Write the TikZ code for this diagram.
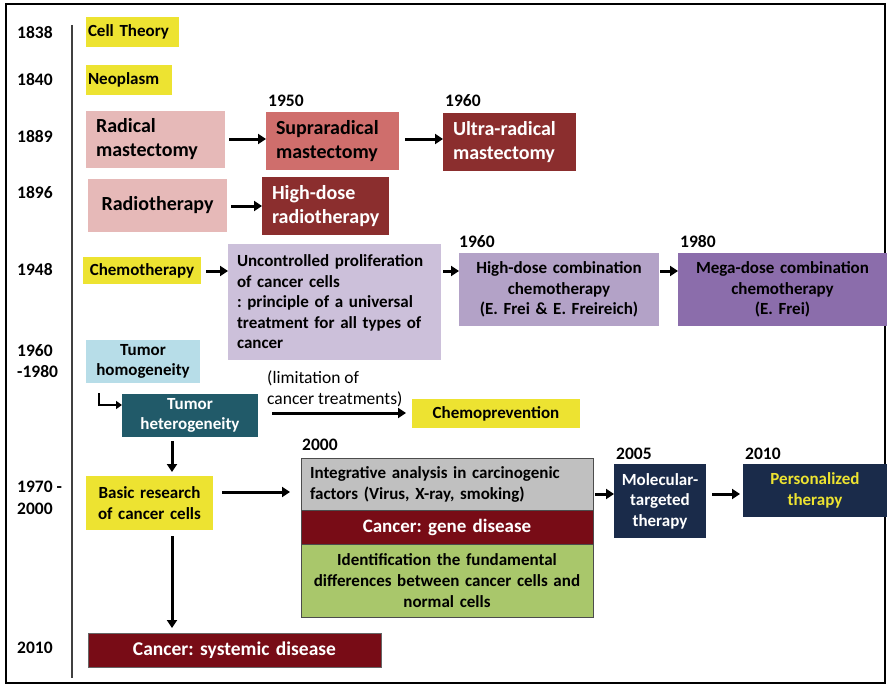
\documentclass[tikz,border=0pt]{standalone}
\usepackage{fontspec}
\setmainfont{Carlito}
\usetikzlibrary{arrows.meta}
\frenchspacing

\definecolor{hlyellow}{HTML}{EDE331}
\definecolor{pinklight}{HTML}{E6B9B8}
\definecolor{salmon}{HTML}{CF6E6C}
\definecolor{brickred}{HTML}{8B2E2E}
\definecolor{lavlight}{HTML}{CCC0DA}
\definecolor{lavmid}{HTML}{B3A2C7}
\definecolor{lavdark}{HTML}{8B6DAB}
\definecolor{skyblue}{HTML}{B7DDE8}
\definecolor{tealdark}{HTML}{215A69}
\definecolor{greybox}{HTML}{C0C0C0}
\definecolor{winered}{HTML}{780C16}
\definecolor{olivegreen}{HTML}{A9C76B}
\definecolor{navy}{HTML}{1A2B4A}

\tikzset{
  x=1pt, y=-1pt,
  box/.style={anchor=north west, inner xsep=0pt, inner ysep=0pt, outer sep=0pt,
    align=center, font=\bfseries\fontsize{17}{20.5}\selectfont},
  bigbox/.style={box, font=\bfseries\fontsize{20}{24}\selectfont},
  year/.style={anchor=west, inner sep=0pt, font=\bfseries\fontsize{17.5}{21.5}\selectfont},
  arr/.style={line width=3pt, -{Triangle[length=8pt,width=10pt]}},
}

\begin{document}
\begin{tikzpicture}
\fill[white] (0,0) rectangle (889,685);
\useasboundingbox (0,0) rectangle (889,685);
\draw[line width=2pt] (6,4) rectangle (885,683);

% time axis
\draw[line width=1.6pt, black!75] (72,25) -- (72,678);
\node[year] (y1838) at (17,33) {1838};
\node[year] (y1840) at (17,80) {1840};
\node[year] (y1889) at (17,137) {1889};
\node[year] (y1896) at (17,193) {1896};
\node[year] (y1948) at (17,270) {1948};
\node[year, align=left, anchor=north west] (y1960) at (17,344) {1960\\-1980};
\node[year, align=left, anchor=north west] (y1970) at (17,481) {1970 -\\2000};
\node[year] (y2010) at (17,648) {2010};

% early concepts
\node[box, fill=hlyellow, align=left, inner xsep=2pt, text width=89pt, minimum height=30pt] (cell) at (86,17) {Cell Theory};
\node[box, fill=hlyellow, align=left, inner xsep=2pt, text width=82pt, minimum height=30pt] (neo) at (86,65) {Neoplasm};

% surgery
\node[bigbox, fill=pinklight, align=left, inner xsep=10pt, text width=119pt, minimum height=57pt] (radical) at (86,111) {Radical\\mastectomy};
\node[bigbox, fill=salmon, align=left, inner xsep=10pt, text width=113pt, minimum height=58pt] (supra) at (266,112) {Supraradical\\mastectomy};
\node[bigbox, fill=brickred, text=white, align=left, inner xsep=10pt, text width=113pt, minimum height=58pt] (ultra) at (443,113) {Ultra-radical\\mastectomy};
\node[year, anchor=south west] (l1950) at (268,107) {1950};
\node[year, anchor=south west] (l1960a) at (445,107) {1960};
\draw[arr] (radical.east |- 0,139) ++(4,0) -- (supra.west |- 0,139);
\draw[arr] (supra.east |- 0,139) ++(6,0) -- (ultra.west |- 0,139);

% radiation
\node[bigbox, fill=pinklight, text width=139pt, minimum height=53pt] (radio) at (88,179) {Radiotherapy};
\node[bigbox, fill=brickred, text=white, align=left, inner xsep=10pt, text width=107pt, minimum height=58pt] (hdradio) at (262,177) {High-dose\\radiotherapy};
\draw[arr] (radio.east |- 0,206) ++(4,0) -- (hdradio.west |- 0,206);

% chemotherapy
\node[box, fill=hlyellow, text width=118pt, minimum height=27pt] (chemo) at (83,257) {Chemotherapy};
\node[box, fill=lavlight, align=left, inner xsep=9pt, text width=195pt, minimum height=116pt] (prolif) at (228,244)
  {Uncontrolled proliferation\\of cancer cells\\: principle of a universal\\treatment for all types of\\cancer};
\node[box, fill=lavmid, text width=200pt, minimum height=73pt] (hdcomb) at (459,253)
  {High-dose combination\\chemotherapy\\(E. Frei \& E. Freireich)};
\node[box, fill=lavdark, text width=209pt, minimum height=73pt] (mega) at (678,253)
  {Mega-dose combination\\chemotherapy\\(E. Frei)};
\node[year, anchor=south west] (l1960b) at (459,248) {1960};
\node[year, anchor=south west] (l1980) at (680,248) {1980};
\draw[arr] (chemo.east |- 0,271) ++(5,0) -- (prolif.west |- 0,271);
\draw[arr] (prolif.east |- 0,271) ++(2,0) -- (hdcomb.west |- 0,271);
\draw[arr] (hdcomb.east |- 0,271) ++(1,0) -- (mega.west |- 0,271);

% tumor heterogeneity
\node[box, fill=skyblue, text width=114pt, minimum height=43pt] (homog) at (86,340) {Tumor\\homogeneity};
\node[box, fill=tealdark, text=white, text width=136pt, minimum height=43pt] (hetero) at (122,394) {Tumor\\heterogeneity};
\draw[line width=2.6pt, -{Triangle[length=6pt,width=8pt]}] ([xshift=13pt,yshift=-10pt]homog.south west) |- (hetero.west |- 0,405);
\node[anchor=north west, inner sep=0pt, align=left, font=\fontsize{17.5}{21}\selectfont] (limit) at (267,371)
  {(limitation of\\cancer treatments)};
\node[box, fill=hlyellow, text width=168pt, minimum height=29pt] (chemoprev) at (412,399) {Chemoprevention};
\draw[arr] (hetero.east |- 0,413) ++(14,0) -- ([xshift=-6pt]chemoprev.west |- 0,413);

% basic research and molecular era
\node[box, fill=hlyellow, text width=127pt, minimum height=54pt] (basic) at (86,476) {Basic research\\of cancer cells};
\draw[arr] ([yshift=-4pt]hetero.south -| 172,0) -- ([yshift=4pt]basic.north -| 172,0);

\node[box, fill=greybox, draw=black!70, line width=1pt, align=left, inner xsep=9pt, text width=274pt, minimum height=52pt,
  font=\bfseries\fontsize{17}{21}\selectfont] (integ) at (301,458)
  {Integrative analysis in carcinogenic\\factors (Virus, X-ray, smoking)};
\node[box, fill=winered, text=white, draw=black!70, line width=1pt, text width=292pt, minimum height=34pt,
  font=\bfseries\fontsize{19}{23}\selectfont] (gene) at (301,510) {Cancer: gene disease};
\node[box, fill=olivegreen, draw=black!70, line width=1pt, text width=292pt, minimum height=73pt,
  font=\bfseries\fontsize{17}{21}\selectfont] (ident) at (301,544)
  {Identification the fundamental\\differences between cancer cells and\\normal cells};
\node[year, anchor=south west] (l2000) at (302,451) {2000};
\draw[arr] (basic.east |- 0,492) ++(9,0) -- ([xshift=-11pt]integ.west |- 0,492);

\node[box, fill=navy, text=white, text width=92pt, minimum height=74pt] (molec) at (614,464) {Molecular-\\targeted\\therapy};
\node[box, fill=navy, text=hlyellow, text width=144pt, minimum height=53pt] (personal) at (743,464) {Personalized\\therapy};
\node[year, anchor=south west] (l2005) at (616,460) {2005};
\node[year, anchor=south west] (l2010) at (745,460) {2010};
\draw[arr] (integ.east |- 0,494) ++(2,0) -- (molec.west |- 0,494);
\draw[arr] (molec.east |- 0,494) ++(6,0) -- ([xshift=-3pt]personal.west |- 0,494);

% systemic view
\node[bigbox, fill=winered, text=white, draw=black!60, line width=0.8pt, text width=293pt, minimum height=34pt,
  font=\bfseries\fontsize{19.5}{23}\selectfont] (systemic) at (88,633) {Cancer: systemic disease};
\draw[arr] ([yshift=-6pt]basic.south -| 172,0) -- ([yshift=5pt]systemic.north -| 172,0);
\end{tikzpicture}
\end{document}
